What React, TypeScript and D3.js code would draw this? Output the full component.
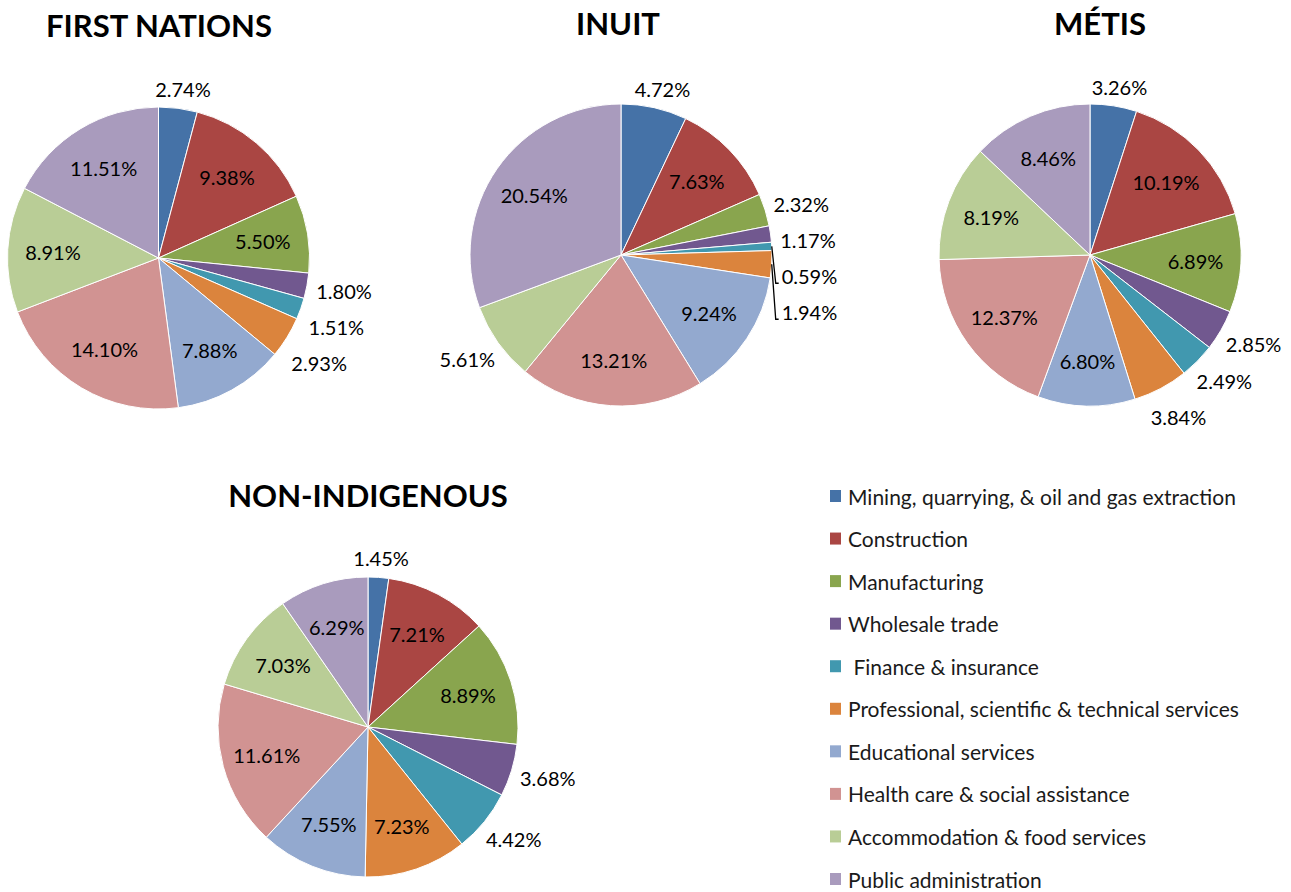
import React from 'react';
import * as d3 from 'd3';

const categories = [
  'Mining, quarrying, & oil and gas extraction',
  'Construction',
  'Manufacturing',
  'Wholesale trade',
  ' Finance & insurance',
  'Professional, scientific & technical services',
  'Educational services',
  'Health care & social assistance',
  'Accommodation & food services',
  'Public administration',
];

const colors = ['#4572A7', '#AA4643', '#89A54E', '#71588F', '#4198AF', '#DB843D', '#93A9CF', '#D19392', '#B9CD96', '#A99BBD'];

const firstNations = [2.74, 9.38, 5.5, 1.8, 1.51, 2.93, 7.88, 14.1, 8.91, 11.51];
const inuit = [4.72, 7.63, 2.32, 1.17, 0.59, 1.94, 9.24, 13.21, 5.61, 20.54];
const metis = [3.26, 10.19, 6.89, 2.85, 2.49, 3.84, 6.8, 12.37, 8.19, 8.46];
const nonIndigenous = [1.45, 7.21, 8.89, 3.68, 4.42, 7.23, 7.55, 11.61, 7.03, 6.29];

// layout for each pie: where it sits and which labels go outside
const panels = [
  { title: 'FIRST NATIONS', values: firstNations, cx: 158.5, cy: 258, r: 151, titleX: 159, titleY: 37, outside: [0, 3, 4, 5] },
  { title: 'INUIT', values: inuit, cx: 621, cy: 255, r: 151, titleX: 618, titleY: 35, outside: [0, 2, 3, 4, 5, 8] },
  { title: 'MÉTIS', values: metis, cx: 1090, cy: 255, r: 151, titleX: 1100, titleY: 35, outside: [0, 3, 4, 5] },
  { title: 'NON-INDIGENOUS', values: nonIndigenous, cx: 368, cy: 727, r: 150, titleX: 368, titleY: 507, outside: [0, 3, 4] },
];

const width = 1291;
const height = 892;
const labelFont = 20;
const fontFamily = 'Lato, "Open Sans", sans-serif';

let ctx: CanvasRenderingContext2D | null = null;
const textWidth = (s: string) => {
  if (!ctx) ctx = document.createElement('canvas').getContext('2d');
  if (!ctx) return s.length * labelFont * 0.55;
  ctx.font = `${labelFont}px Lato`;
  return ctx.measureText(s).width;
};

const fmt = (v: number) => `${v.toFixed(2)}%`;

const pieGen = d3.pie<number>().sort(null).value(d => d);

const Pie = ({ panel }: { panel: typeof panels[number] }) => {
  const { values, cx, cy, r, outside } = panel;
  const arcs = pieGen(values);
  const sliceArc = d3.arc<d3.PieArcDatum<number>>().innerRadius(0).outerRadius(r);
  const innerArc = d3.arc<d3.PieArcDatum<number>>().innerRadius(r * 0.7).outerRadius(r * 0.7);

  // outside labels placed just beyond the rim, then nudged apart vertically
  const R = r + 10;
  const h = 18;
  const outLabels = arcs
    .filter(a => outside.includes(a.index))
    .map(a => {
      const t = (a.startAngle + a.endAngle) / 2;
      const s = Math.sin(t);
      const c = Math.cos(t);
      const w = textWidth(fmt(a.data));
      const x = R * s + (s * w) / 2;
      const y = -R * c - (c > 0 ? (c * h) / 2 : c * h);
      return { a, t, s, c, w, x, y, y0: y };
    });
  const right = outLabels.filter(l => l.s > 0.3).sort((p, q) => p.t - q.t);
  for (let i = 1; i < right.length; i++) {
    right[i].y = Math.max(right[i].y, right[i - 1].y + 36);
  }

  return (
    <g transform={`translate(${cx},${cy})`}>
      {arcs.map(a => (
        <path key={a.index} d={sliceArc(a) || ''} fill={colors[a.index]} stroke="#fff" strokeWidth={1} />
      ))}
      {arcs
        .filter(a => !outside.includes(a.index))
        .map(a => {
          const [x, y] = innerArc.centroid(a);
          return (
            <text key={a.index} x={x} y={y} textAnchor="middle" dominantBaseline="central" fontSize={labelFont} fontFamily={fontFamily} fill="#000">
              {fmt(a.data)}
            </text>
          );
        })}
      {outLabels.map(l => {
        const moved = l.y - l.y0 > 15;
        const left = l.x - l.w / 2;
        const ex = r * l.s;
        const ey = -r * l.c;
        return (
          <g key={l.a.index}>
            {moved && (
              <polyline
                points={`${ex},${ey} ${ex + 4},${l.y + 7} ${left - 3},${l.y + 7}`}
                fill="none"
                stroke="#000"
                strokeWidth={1.3}
              />
            )}
            <text x={l.x} y={l.y} textAnchor="middle" dominantBaseline="central" fontSize={labelFont} fontFamily={fontFamily} fill="#000">
              {fmt(l.a.data)}
            </text>
          </g>
        );
      })}
    </g>
  );
};

const legendY = d3.scalePoint<number>().domain(d3.range(categories.length)).range([496, 879]);

const App = () => {
  return (
    <svg width={width} height={height} style={{ position: 'absolute', left: 0, top: 0, background: '#fff' }}>
      {panels.map(p => (
        <g key={p.title}>
          <text x={p.titleX} y={p.titleY} textAnchor="middle" fontSize={31} fontWeight="bold" fontFamily={fontFamily} fill="#000">
            {p.title}
          </text>
          <Pie panel={p} />
        </g>
      ))}
      <g>
        {categories.map((c, i) => (
          <g key={c} transform={`translate(830,${legendY(i)})`}>
            <rect x={0} y={-6} width={11} height={12} fill={colors[i]} />
            <text x={18} y={0} dominantBaseline="central" fontSize={21} fontFamily={fontFamily} fill="#1a1a1a" style={{ whiteSpace: 'pre' }}>
              {c}
            </text>
          </g>
        ))}
      </g>
    </svg>
  );
};

export default App;
